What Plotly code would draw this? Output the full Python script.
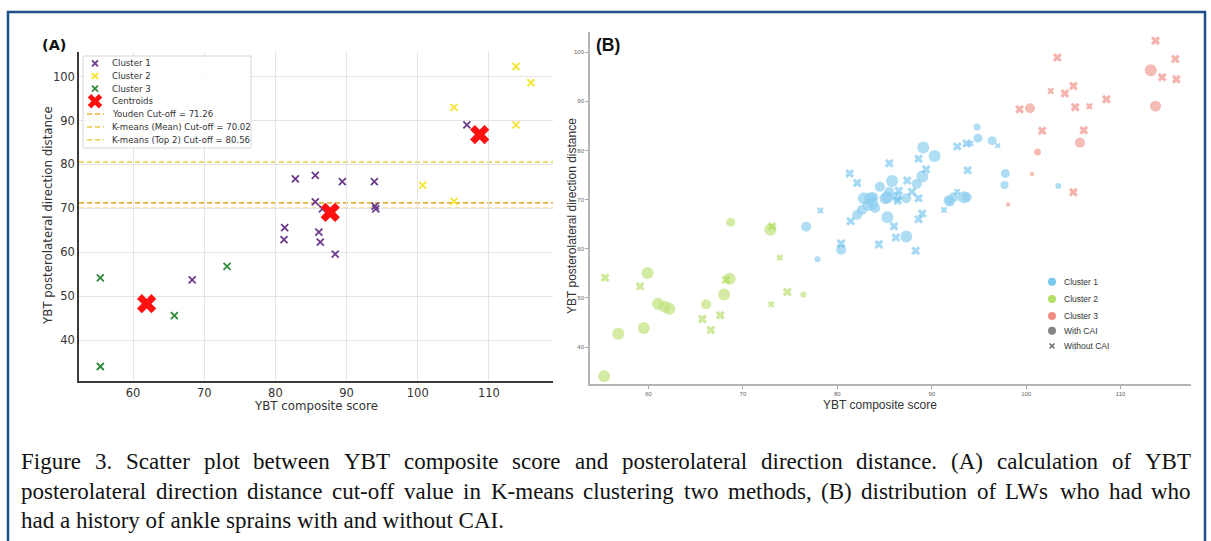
import plotly.graph_objects as go

W, H = 1211, 541


def px(x):
    return x / W


def py(y):
    return 1 - y / H


# ---------------- Panel A data ----------------
a_c1_x = [68.3, 81.3, 81.2, 82.8, 85.6, 85.6, 86.6, 86.1, 86.3, 88.4, 89.4, 93.9, 94.0, 94.1, 106.9]
a_c1_y = [53.7, 65.6, 62.9, 76.7, 77.5, 71.5, 69.9, 64.6, 62.3, 59.6, 76.1, 76.1, 70.5, 69.9, 89.0]
a_c2_x = [100.7, 105.1, 105.1, 113.8, 113.8, 115.9]
a_c2_y = [75.3, 71.6, 93.0, 89.0, 102.3, 98.6]
a_c3_x = [55.4, 55.4, 65.8, 73.2]
a_c3_y = [54.2, 34.0, 45.6, 56.8]
centroid_x = [61.9, 87.7, 108.7]
centroid_y = [48.3, 69.1, 86.8]
cutoff_names = ["Youden Cut-off = 71.26", "K-means (Mean) Cut-off = 70.02", "K-means (Top 2) Cut-off = 80.56"]
cutoff_values = [71.26, 70.02, 80.56]
a_xticks = [60, 70, 80, 90, 100, 110]
a_yticks = [40, 50, 60, 70, 80, 90, 100]

# ---------------- Panel B data ----------------
b_c1_with_x = [76.7, 77.9, 80.4, 82.1, 85.3, 82.8, 83.3, 83.7, 83.5, 84.5, 83.8, 85.3, 85.1, 85.8, 85.5, 86.3,
               87.3, 88.4, 89.0, 89.1, 90.3, 87.3, 91.8, 92.3, 93.4, 93.7, 94.8, 94.9, 96.4, 97.8, 97.7, 103.4,
               91.9, 84.0, 82.6]
b_c1_with_y = [64.5, 57.9, 59.8, 66.9, 66.4, 70.3, 68.9, 69.2, 70.3, 72.6, 70.5, 70.5, 70.3, 73.8, 71.6, 70.5,
               70.3, 73.2, 74.7, 80.6, 78.9, 62.5, 69.9, 70.5, 70.5, 70.5, 84.8, 82.5, 82.0, 75.3, 73.0, 72.8,
               69.6, 68.3, 67.9]
b_c1_with_w = [10, 6, 10, 10, 12, 12, 12, 12, 12, 10, 10, 12, 12, 12, 10, 10,
               10, 10, 12, 12, 12, 12, 10, 10, 12, 10, 7, 9, 9, 9, 8, 6,
               10, 10, 10]
b_c1_without_x = [78.2, 80.4, 81.4, 84.4, 86.0, 86.2, 81.3, 82.1, 85.5, 88.6, 89.4, 87.4, 86.5, 87.9, 88.6, 86.4,
                  88.6, 89.0, 91.3, 92.7, 92.7, 93.7, 94.1, 93.8, 97.0, 88.3]
b_c1_without_y = [67.8, 61.1, 65.6, 60.9, 64.6, 62.3, 75.3, 73.4, 77.4, 78.3, 76.2, 73.9, 71.8, 71.6, 70.3, 69.8,
                  66.0, 67.2, 67.9, 71.6, 80.8, 81.4, 81.4, 76.0, 81.0, 59.6]
b_c1_without_w = [6, 8, 8, 8, 8, 8, 8, 8, 8, 8, 8, 8, 8, 8, 8, 8,
                  8, 8, 6, 6, 8, 8, 6, 8, 5, 8]

b_c2_with_x = [55.3, 56.8, 59.5, 59.9, 61.0, 61.7, 62.2, 66.1, 68.0, 68.6, 68.7, 72.9, 76.4]
b_c2_with_y = [34.1, 42.7, 43.9, 55.1, 48.8, 48.2, 47.8, 48.7, 50.7, 53.9, 65.4, 63.9, 50.7]
b_c2_with_w = [12, 12, 12, 12, 12, 12, 12, 10, 12, 12, 9, 12, 6]
b_c2_without_x = [55.4, 59.1, 65.7, 66.6, 67.6, 68.2, 73.0, 73.1, 73.9, 74.7]
b_c2_without_y = [54.1, 52.4, 45.7, 43.5, 46.5, 53.7, 48.7, 64.6, 58.2, 51.2]
b_c2_without_w = [8, 8, 8, 8, 8, 8, 6, 8, 6, 8]

b_c3_with_x = [113.2, 113.7, 100.4, 105.7, 101.2]
b_c3_with_y = [96.3, 89.0, 88.6, 81.6, 79.7]
b_c3_with_w = [12, 11, 10, 10, 7]
b_c3_without_x = [113.7, 115.8, 114.4, 115.9, 103.3, 102.6, 104.1, 105.0, 105.2, 106.7, 108.5, 99.3, 101.7,
                  106.1, 100.6, 105.0, 98.1]
b_c3_without_y = [102.3, 98.6, 94.9, 94.5, 98.9, 92.1, 91.6, 93.1, 88.8, 89.0, 90.4, 88.4, 84.0,
                  84.1, 75.2, 71.5, 69.0]
b_c3_without_w = [8, 8, 8, 8, 8, 6, 8, 8, 8, 6, 8, 8, 8,
                  8, 4, 8, 4]
b_xticks = [60, 70, 80, 90, 100, 110]
b_yticks = [40, 50, 60, 70, 80, 90, 100]

caption_lines = [
    "Figure 3. Scatter plot between YBT composite score and posterolateral direction distance. (A) calculation of YBT",
    "posterolateral direction distance cut-off value in K-means clustering two methods, (B) distribution of LWs who had who",
    "had a history of ankle sprains with and without CAI.",
]

# ---------------- colours ----------------
A_COL = ["#6c3b8c", "#f3e532", "#2f8a3c"]
CUT_COL = ["#e2b43a", "#ecc94a", "#ecc94a"]
B_COL = ["#62bceb", "#a9d94b", "#ec7b6e"]

fig = go.Figure()

# ---------- panel A traces ----------
for xs, ys, col, name in [(a_c1_x, a_c1_y, A_COL[0], "Cluster 1"),
                          (a_c2_x, a_c2_y, A_COL[1], "Cluster 2"),
                          (a_c3_x, a_c3_y, A_COL[2], "Cluster 3")]:
    fig.add_trace(go.Scatter(x=xs, y=ys, mode="markers", name=name, xaxis="x", yaxis="y",
                             marker=dict(symbol="x-thin", size=7, color=col,
                                         line=dict(width=1.8, color=col))))
fig.add_trace(go.Scatter(x=centroid_x, y=centroid_y, mode="markers", name="Centroids", xaxis="x", yaxis="y",
                         marker=dict(symbol="x", size=17, color="#ff1010", line=dict(width=0))))

shapes = []
for v, col in zip(cutoff_values, CUT_COL):
    shapes.append(dict(type="line", xref="x domain", yref="y", x0=0, x1=1, y0=v, y1=v,
                       line=dict(color=col, width=1.6, dash="5px,3px"), layer="below"))

# ---------- panel B traces ----------
groups = [
    (b_c1_with_x, b_c1_with_y, b_c1_with_w, b_c1_without_x, b_c1_without_y, b_c1_without_w, B_COL[0]),
    (b_c2_with_x, b_c2_with_y, b_c2_with_w, b_c2_without_x, b_c2_without_y, b_c2_without_w, B_COL[1]),
    (b_c3_with_x, b_c3_with_y, b_c3_with_w, b_c3_without_x, b_c3_without_y, b_c3_without_w, B_COL[2]),
]
for i, (wx, wy, ww, ox, oy, ow, col) in enumerate(groups):
    fig.add_trace(go.Scatter(x=wx, y=wy, mode="markers", name=f"Cluster {i+1} with CAI",
                             xaxis="x2", yaxis="y2", opacity=0.72,
                             marker=dict(symbol="circle", size=ww, color=col, line=dict(width=0))))
    fig.add_trace(go.Scatter(x=ox, y=oy, mode="markers", name=f"Cluster {i+1} without CAI",
                             xaxis="x2", yaxis="y2", opacity=0.8,
                             marker=dict(symbol="x", size=ow, color=col, line=dict(width=0))))

# ---------- axes ----------
A_L, A_R, A_T, A_B = 79, 553, 52, 381
B_L, B_R, B_T, B_B = 590, 1191, 32, 384

fig.update_layout(
    width=W, height=H, margin=dict(l=0, r=0, t=0, b=0),
    paper_bgcolor="white", plot_bgcolor="rgba(0,0,0,0)", showlegend=False,
    xaxis=dict(domain=[px(A_L), px(A_R)], range=[52.4, 119.0], anchor="y",
               tickvals=a_xticks, ticks="", showgrid=True, gridcolor="#e4e4e4", gridwidth=1,
               showline=True, linecolor="#3a3a3a", linewidth=1.5, zeroline=False,
               tickfont=dict(family="DejaVu Sans", size=11.5, color="#333")),
    yaxis=dict(domain=[py(A_B), py(A_T)], range=[30.7, 105.6], anchor="x",
               tickvals=a_yticks, ticks="", showgrid=True, gridcolor="#e4e4e4", gridwidth=1,
               showline=True, linecolor="#3a3a3a", linewidth=1.5, zeroline=False,
               tickfont=dict(family="DejaVu Sans", size=11.5, color="#333")),
    xaxis2=dict(domain=[px(B_L), px(B_R)], range=[53.8, 117.46], anchor="y2",
                tickvals=b_xticks, ticks="outside", ticklen=3, tickcolor="#aaa", showgrid=False,
                showline=True, linecolor="#b4b4b4", linewidth=1.5, zeroline=False,
                tickfont=dict(family="Liberation Sans", size=6, color="#666")),
    yaxis2=dict(domain=[py(B_B), py(B_T)], range=[32.5, 104.1], anchor="x2",
                tickvals=b_yticks, ticks="outside", ticklen=3, tickcolor="#aaa", showgrid=False,
                showline=True, linecolor="#b4b4b4", linewidth=1.5, zeroline=False,
                tickfont=dict(family="Liberation Sans", size=6, color="#666")),
)

ann = []


def T(x, y, text, size, family="DejaVu Sans", color="#222", xa="left", ya="middle", angle=0, bold=False):
    if bold:
        text = "<b>" + text + "</b>"
    ann.append(dict(xref="paper", yref="paper", x=px(x), y=py(y), text=text, showarrow=False,
                    xanchor=xa, yanchor=ya, textangle=angle, borderpad=0,
                    font=dict(family=family, size=size, color=color)))


# panel labels & axis titles
T(41, 45, "(A)", 14.5, bold=True, color="#111")
T(595, 45, "(B)", 17.5, family="Liberation Sans", bold=True, color="#111")
T(316, 406, "YBT composite score", 11.8, color="#333", xa="center")
T(48, 216, "YBT posterolateral direction distance", 11.8, color="#333", xa="center", angle=-90)
T(880, 405, "YBT composite score", 12, family="Liberation Sans", color="#333", xa="center")
T(572, 216, "YBT posterolateral direction distance", 12, family="Liberation Sans", color="#333", xa="center", angle=-90)

# ---------- legend A (drawn) ----------
shapes.append(dict(type="rect", xref="paper", yref="paper", x0=px(83), x1=px(251), y0=py(148), y1=py(56),
                   line=dict(color="#d6d6d6", width=1), fillcolor="rgba(255,255,255,0.85)"))
legA_rows = [63.3, 76, 88.7, 101.3, 114, 127, 139.7]
legA_names = ["Cluster 1", "Cluster 2", "Cluster 3", "Centroids"] + cutoff_names
gx = 95
for k in range(3):
    yy = legA_rows[k]
    for s in (1, -1):
        shapes.append(dict(type="line", xref="paper", yref="paper",
                           x0=px(gx - 3), x1=px(gx + 3), y0=py(yy - 3 * s), y1=py(yy + 3 * s),
                           line=dict(color=A_COL[k], width=1.8)))
yy = legA_rows[3]
for s in (1, -1):
    shapes.append(dict(type="line", xref="paper", yref="paper",
                       x0=px(gx - 5.5), x1=px(gx + 5.5), y0=py(yy - 5.5 * s), y1=py(yy + 5.5 * s),
                       line=dict(color="#ff1010", width=5)))
for k in range(3):
    yy = legA_rows[4 + k]
    shapes.append(dict(type="line", xref="paper", yref="paper", x0=px(87), x1=px(104), y0=py(yy), y1=py(yy),
                       line=dict(color=CUT_COL[k], width=1.6, dash="5px,3px")))
for yy, nm in zip(legA_rows, legA_names):
    T(111, yy, nm, 8.6, color="#333")

# ---------- legend B (drawn) ----------
legB_rows = [281.7, 299, 316, 330.7, 346]
legB_names = ["Cluster 1", "Cluster 2", "Cluster 3", "With CAI", "Without CAI"]
legB_cols = [B_COL[0], B_COL[1], B_COL[2], "#6f6f6f"]
for k in range(4):
    yy = legB_rows[k]
    shapes.append(dict(type="circle", xref="paper", yref="paper", x0=px(1048), x1=px(1056),
                       y0=py(yy + 4), y1=py(yy - 4), fillcolor=legB_cols[k], line=dict(width=0),
                       opacity=0.85))
yy = legB_rows[4]
for s in (1, -1):
    shapes.append(dict(type="line", xref="paper", yref="paper",
                       x0=px(1052 - 2.5), x1=px(1052 + 2.5), y0=py(yy - 2.5 * s), y1=py(yy + 2.5 * s),
                       line=dict(color="#6f6f6f", width=1.6)))
for yy, nm in zip(legB_rows, legB_names):
    T(1063, yy, nm, 8.5, family="Liberation Sans", color="#333")

# ---------- caption (justified, Times metrics) ----------
TM = {' ': 250, '.': 250, ',': 250, '(': 333, ')': 333, '-': 333,
      'a': 444, 'b': 500, 'c': 444, 'd': 500, 'e': 444, 'f': 333, 'g': 500, 'h': 500, 'i': 278, 'j': 278,
      'k': 500, 'l': 278, 'm': 778, 'n': 500, 'o': 500, 'p': 500, 'q': 500, 'r': 333, 's': 389, 't': 278,
      'u': 500, 'v': 500, 'w': 722, 'x': 500, 'y': 500, 'z': 444,
      'A': 722, 'B': 667, 'C': 667, 'D': 722, 'E': 611, 'F': 556, 'G': 722, 'H': 722, 'I': 333, 'K': 722,
      'L': 611, 'M': 889, 'N': 722, 'O': 722, 'P': 556, 'R': 667, 'S': 556, 'T': 611, 'W': 944, 'Y': 722}
CAP_SIZE = 23
CAP_L, CAP_R = 20, 1190
cap_y = [461, 491, 520]


def tw(s):
    return sum(TM.get(c, 500) for c in s) * CAP_SIZE / 1000.0


for li, line in enumerate(caption_lines):
    if li < 2:
        words = line.split(" ")
        widths = [tw(w) for w in words]
        gap = max(3.0, (CAP_R - CAP_L - sum(widths)) / (len(words) - 1))
        xcur = CAP_L
        for w, wd in zip(words, widths):
            T(xcur, cap_y[li], w, CAP_SIZE, family="Liberation Serif", color="#111")
            xcur += wd + gap
    else:
        T(CAP_L, cap_y[li], line, CAP_SIZE, family="Liberation Serif", color="#111")

# ---------- outer frame ----------
shapes.append(dict(type="rect", xref="paper", yref="paper", x0=px(8), x1=px(1205), y0=py(560), y1=py(12),
                   line=dict(color="#1f4e8c", width=2.5), fillcolor="rgba(0,0,0,0)"))

fig.update_layout(shapes=shapes, annotations=ann)
fig.write_html("out.html", config={"displayModeBar": False},
               post_script="document.body.style.margin='0px';document.body.style.overflow='hidden';")
